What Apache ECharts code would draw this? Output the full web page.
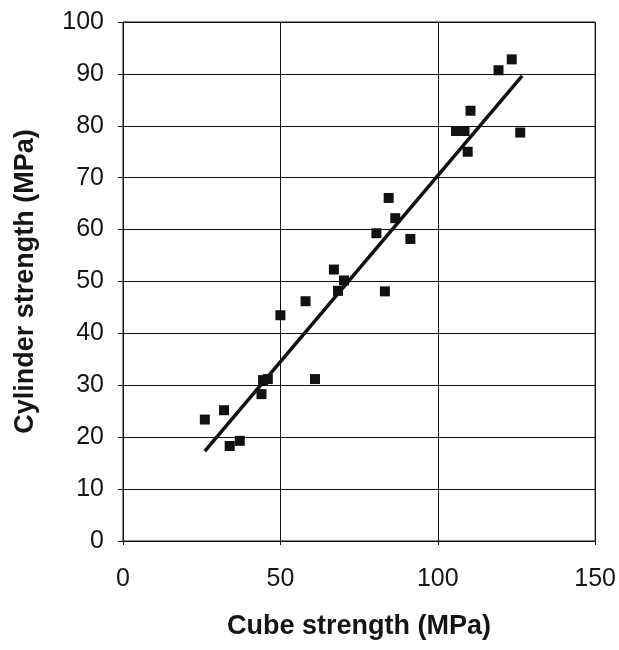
<!DOCTYPE html>
<html><head><meta charset="utf-8">
<script src="https://cdn.jsdelivr.net/npm/echarts@6/dist/echarts.min.js"></script>
<style>html,body{margin:0;padding:0;background:#fff}#c{width:619px;height:650px}</style>
</head><body><div id="c"></div>
<script>
const cubeStrength = [123.5,119.3,110.4,105.8,108.5,126.2,109.5,84.4,86.5,80.5,91.3,67.0,70.2,68.3,83.2,58.0,50.0,44.5,46.0,61.0,44.0,32.1,26.0,37.1,33.9];
const cylStrength  = [92.8,90.7,82.9,79.0,79.0,78.7,75.0,66.1,62.2,59.3,58.2,52.3,50.2,48.2,48.1,46.2,43.5,31.0,31.2,31.2,28.3,25.2,23.4,19.3,18.3];
const fitX = [26.0, 126.8];
const fitY = [17.3, 89.6];
const xTicks = [0,50,100,150];
const yTicks = [0,10,20,30,40,50,60,70,80,90,100];

const pts = cubeStrength.map((v,i)=>[v, cylStrength[i]]);
const line = fitX.map((v,i)=>[v, fitY[i]]);
const font = 'Liberation Sans, Arial, sans-serif';
const chart = echarts.init(document.getElementById('c'));
chart.setOption({
  animation:false,
  backgroundColor:'#fff',
  grid:{left:123,right:23,top:22,bottom:109,show:true,borderColor:'#111',borderWidth:1},
  xAxis:{type:'value',min:0,max:150,interval:50,
    name:'Cube strength (MPa)',nameLocation:'middle',nameGap:72,
    nameTextStyle:{fontFamily:font,fontWeight:'bold',fontSize:27,color:'#151515'},
    axisLine:{lineStyle:{color:'#111',width:1}},
    axisTick:{show:true,length:4,lineStyle:{color:'#111'}},
    axisLabel:{margin:26,fontFamily:font,fontSize:25,color:'#151515',formatter:v=>xTicks.includes(v)?String(v):''},
    splitLine:{show:true,lineStyle:{color:'#111',width:1}}},
  yAxis:{type:'value',min:0,max:100,interval:10,
    name:'Cylinder strength (MPa)',nameLocation:'middle',nameGap:84,
    nameTextStyle:{fontFamily:font,fontWeight:'bold',fontSize:27,color:'#151515'},
    axisLine:{show:true,lineStyle:{color:'#111',width:1}},
    axisTick:{show:true,length:5,lineStyle:{color:'#111'}},
    axisLabel:{margin:19,fontFamily:font,fontSize:25,color:'#151515',formatter:v=>yTicks.includes(v)?String(v):''},
    splitLine:{show:true,lineStyle:{color:'#111',width:1}}},
  series:[
    {type:'line',data:line,symbol:'none',lineStyle:{color:'#111',width:3.5},z:2},
    {type:'scatter',data:pts,symbol:'rect',symbolSize:10,itemStyle:{color:'#111',opacity:1},z:3}
  ]
});
</script></body></html>
